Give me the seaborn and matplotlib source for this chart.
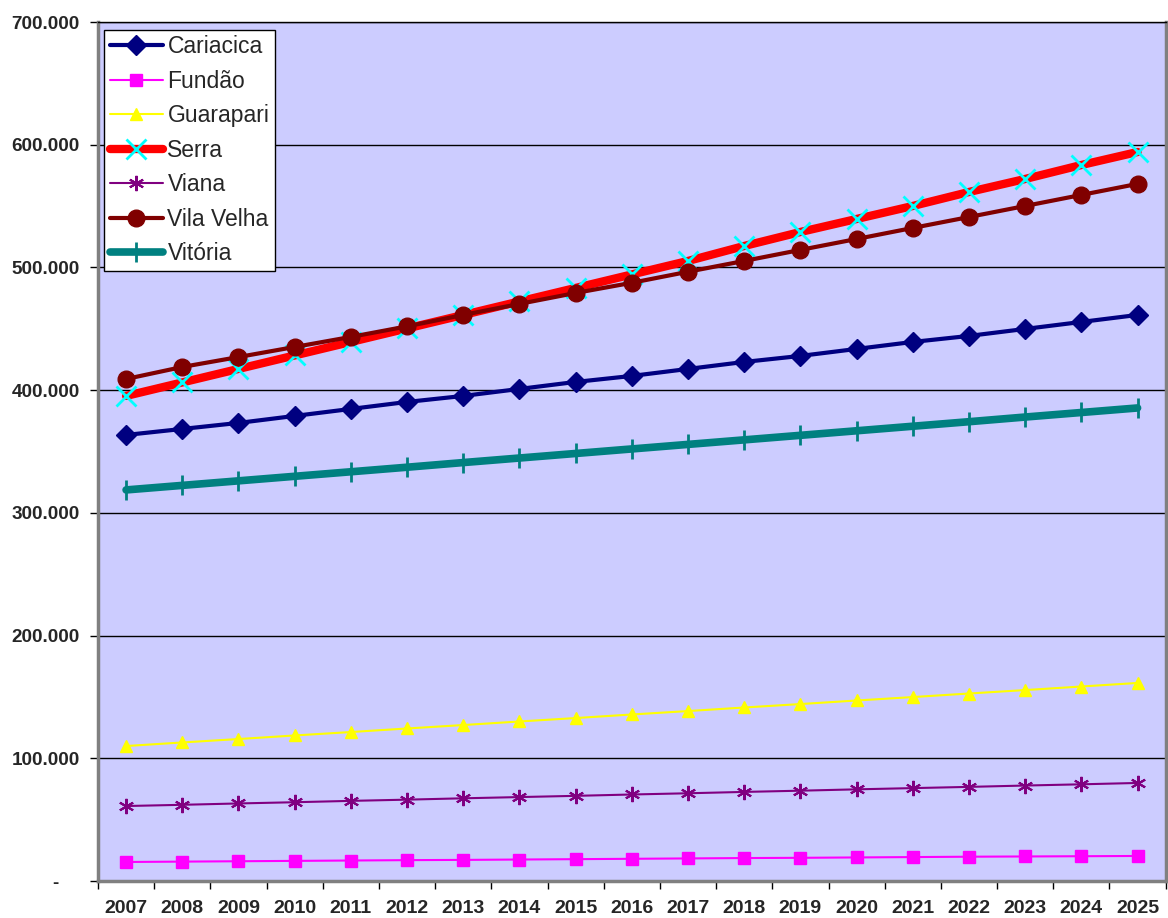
import matplotlib.pyplot as plt
import matplotlib.ticker as mticker
import pandas as pd
import seaborn as sns

years = list(range(2007, 2026))

cariacica = [363500, 368400, 373300, 379000, 384700, 390400, 395300, 401000, 406700, 411600,
             417300, 423000, 427900, 433600, 439300, 444200, 449900, 455600, 461300]
fundao = [15500, 15800, 16100, 16400, 16700, 17000, 17200, 17500, 17800, 18100,
          18400, 18700, 18900, 19200, 19500, 19800, 20000, 20200, 20400]
guarapari = [110000, 112900, 115700, 118600, 121400, 124300, 127100, 130000, 132800, 135700,
             138500, 141400, 144200, 147100, 149900, 152800, 155600, 158500, 161400]
serra = [395300, 406300, 417300, 428300, 439300, 450300, 461300, 472300, 483300, 494300,
         505300, 517500, 528900, 539500, 550100, 561500, 572100, 583500, 594100]
viana = [61100, 62100, 63200, 64200, 65300, 66300, 67400, 68400, 69400, 70500,
         71500, 72600, 73600, 74700, 75700, 76700, 77800, 78800, 79900]
vila_velha = [409100, 418900, 427000, 435200, 443400, 452000, 461300, 470300, 479200, 487500,
              496500, 505300, 514300, 523200, 532200, 541100, 550100, 559100, 568100]
vitoria = [318700, 322400, 326100, 329800, 333500, 337200, 341000, 344700, 348400, 352100,
           355800, 359500, 363200, 366900, 370600, 374300, 378100, 381800, 385500]

series = {
    "Cariacica": cariacica,
    "Fundão": fundao,
    "Guarapari": guarapari,
    "Serra": serra,
    "Viana": viana,
    "Vila Velha": vila_velha,
    "Vitória": vitoria,
}

# line / marker style per municipality (Excel-like)
styles = {
    "Cariacica": dict(color="#000080", lw=3, marker="D", ms=10, mfc="#000080", mec="#000080", mew=1),
    "Fundão": dict(color="#FF00FF", lw=1.5, marker="s", ms=9, mfc="#FF00FF", mec="#FF00FF", mew=1),
    "Guarapari": dict(color="#FFFF00", lw=1.5, marker="^", ms=9, mfc="#FFFF00", mec="#FFFF00", mew=1),
    "Serra": dict(color="#FF0000", lw=6, marker="x", ms=14, mfc="#00FFFF", mec="#00FFFF", mew=2),
    "Viana": dict(color="#800080", lw=1.5, marker=(6, 2, 0), ms=11, mfc="#800080", mec="#800080", mew=1.5),
    "Vila Velha": dict(color="#800000", lw=3, marker="o", ms=12, mfc="#800000", mec="#800000", mew=1),
    "Vitória": dict(color="#008080", lw=5.5, marker="|", ms=14, mfc="#008080", mec="#008080", mew=2),
}

df = pd.DataFrame({"pos": range(len(years)), **series})

sns.set_style("white")
plt.rcParams["font.family"] = ["Liberation Sans", "DejaVu Sans"]

fig = plt.figure(figsize=(11.68, 9.18), dpi=100)
ax = fig.add_axes([0.0839, 0.0403, 0.9141, 0.9357])
ax.set_facecolor("#CCCCFF")

for name, values in series.items():
    st = styles[name]
    sns.lineplot(x=df["pos"], y=df[name], ax=ax, label=name, color=st["color"],
                 linewidth=st["lw"], marker=st["marker"], markersize=st["ms"],
                 markerfacecolor=st["mfc"], markeredgecolor=st["mec"],
                 markeredgewidth=st["mew"], zorder=3)

ax.set_xlim(-0.5, len(years) - 0.5)
ax.set_ylim(0, 700000)

ax.yaxis.set_major_locator(mticker.MultipleLocator(100000))
ax.yaxis.set_major_formatter(mticker.FuncFormatter(
    lambda v, p: "-    " if v == 0 else f"{v:,.0f}".replace(",", ".")))
ax.grid(axis="y", color="black", linewidth=1, zorder=1)
ax.grid(axis="x", visible=False)

ax.set_xticks(range(len(years)))
ax.set_xticklabels([str(y) for y in years])
ax.set_xticks([i - 0.5 for i in range(len(years) + 1)], minor=True)
ax.tick_params(axis="x", which="major", length=0, pad=14, labelsize=14)
ax.tick_params(axis="x", which="minor", length=6, width=1, color="black", direction="out")
ax.tick_params(axis="y", length=6, width=1, color="black", direction="out", labelsize=13.6, pad=7)
ax.tick_params(left=True, bottom=True, which="both")
for lab in ax.get_xticklabels() + ax.get_yticklabels():
    lab.set_fontweight("bold")

ax.set_xlabel("")
ax.set_ylabel("")

for side in ["top", "right", "left", "bottom"]:
    ax.spines[side].set_color("#808080")
    ax.spines[side].set_linewidth(2.5)
ax.spines["top"].set_color("black")
ax.spines["top"].set_linewidth(1)

leg = ax.legend(loc="upper left", bbox_to_anchor=(0.006, 0.991), fontsize=16.5,
                frameon=True, fancybox=False, edgecolor="black", facecolor="white",
                framealpha=1, handlelength=2.3, handletextpad=0.2, labelspacing=0.5,
                borderpad=0.25, borderaxespad=0)
leg.get_frame().set_linewidth(1)

plt.savefig("out.png", dpi=100)
